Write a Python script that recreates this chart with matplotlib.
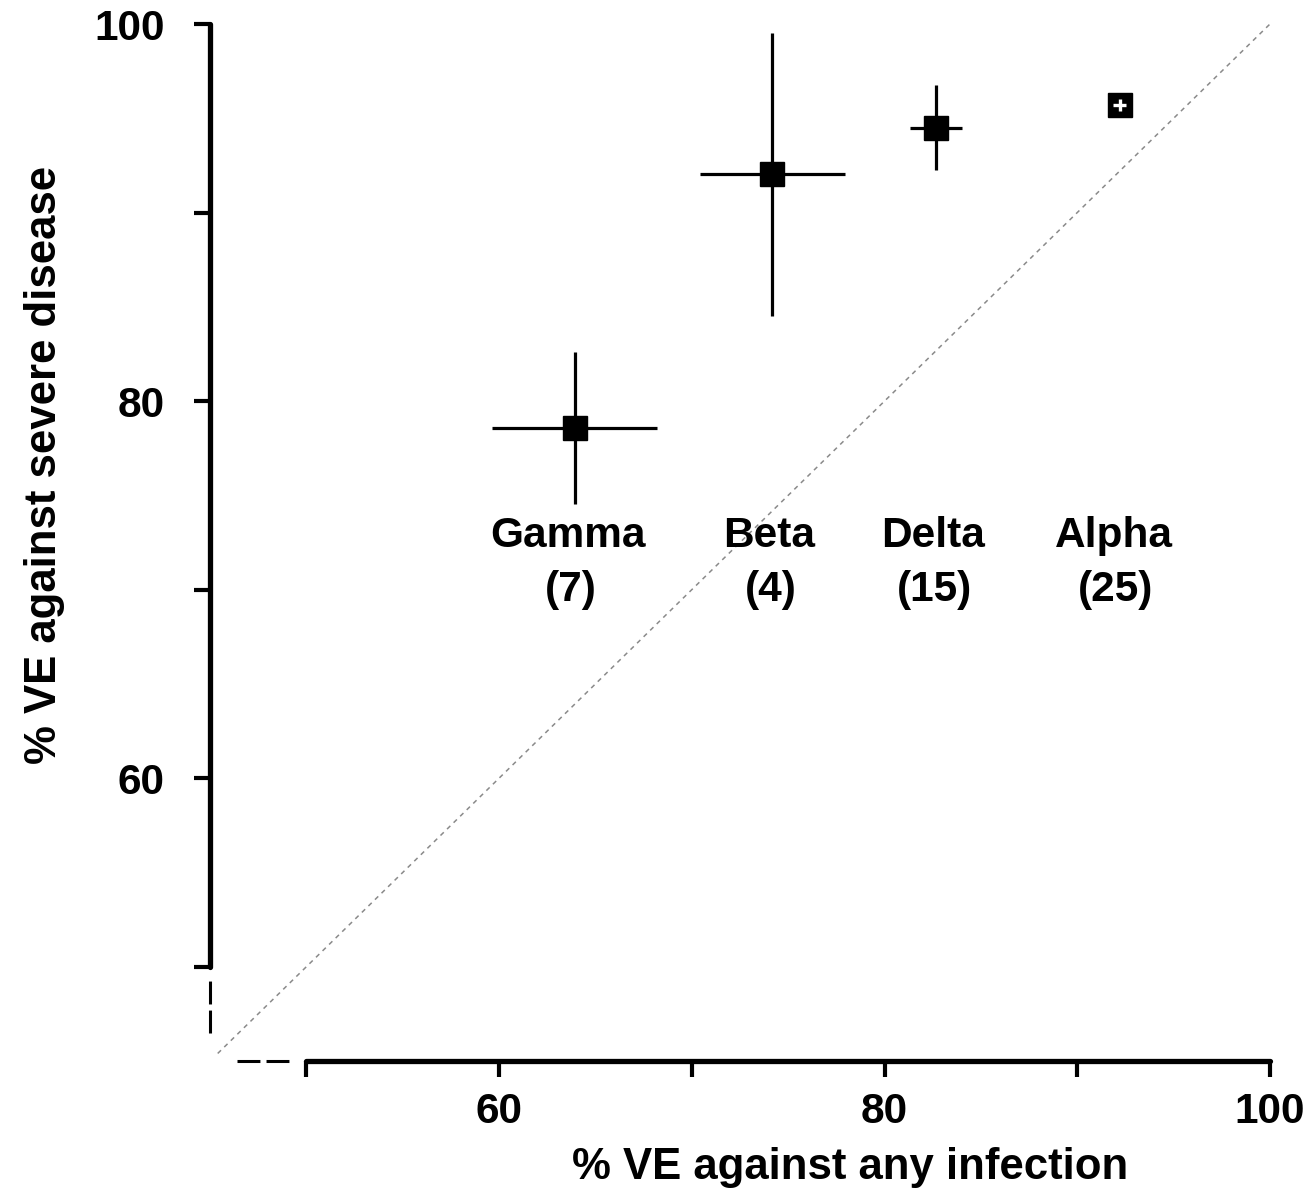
import matplotlib
matplotlib.use("Agg")
import matplotlib.pyplot as plt
import numpy as np

plt.rcParams['font.family'] = ['Liberation Sans', 'DejaVu Sans']
plt.rcParams['font.weight'] = 'bold'

# Data
variants = ["Gamma", "Beta", "Delta", "Alpha"]
n_studies = [7, 4, 15, 25]
ve_infection = [63.95, 74.16, 82.66, 92.21]
ve_inf_lo = [59.64, 70.40, 81.34, 91.85]
ve_inf_hi = [68.19, 77.93, 84.04, 92.52]
ve_severe = [78.56, 92.06, 94.48, 95.71]
ve_sev_lo = [74.55, 84.51, 92.24, 95.40]
ve_sev_hi = [82.58, 99.51, 96.77, 96.03]

x_major = [60, 80, 100]
x_minor = [50, 70, 90]
y_major = [60, 80, 100]
y_minor = [50, 70, 90]

W, H = 1312, 1193
fig = plt.figure(figsize=(W / 100, H / 100), dpi=100)
ax = fig.add_axes([210 / W, (H - 1061) / H, (1270 - 210) / W, (1061 - 24) / H])
ax.set_xlim(45, 100)
ax.set_ylim(45, 100)

# diagonal line of identity
ax.plot([45.4, 100], [45.4, 100], color='#8a8a8a', lw=1.1, dashes=(3, 3), zorder=1)

# error bars and markers
for i, v in enumerate(variants):
    col = 'white' if v == "Alpha" else 'black'
    z = 4 if v == "Alpha" else 2
    x, y = ve_infection[i], ve_severe[i]
    if v != "Alpha":
        ax.plot([ve_inf_lo[i], ve_inf_hi[i]], [y, y], color=col, lw=2.3, zorder=z, solid_capstyle='butt')
        ax.plot([x, x], [ve_sev_lo[i], ve_sev_hi[i]], color=col, lw=2.3, zorder=z, solid_capstyle='butt')
    ax.plot([x], [y], marker='s', ms=17, color='black', mec='black', mew=1.0, zorder=3,
            linestyle='none')
    if v == "Alpha":
        ax.plot([ve_inf_lo[i], ve_inf_hi[i]], [y, y], color=col, lw=2.4, zorder=z, solid_capstyle='butt')
        ax.plot([x, x], [ve_sev_lo[i], ve_sev_hi[i]], color=col, lw=2.4, zorder=z, solid_capstyle='butt')

# variant labels
label_dx = [-0.35, -0.15, -0.15, -0.3]
for i, v in enumerate(variants):
    ax.text(ve_infection[i] + label_dx[i], 72.27, v, ha='center', va='baseline',
            fontsize=30.5, fontweight='bold')
    ax.text(ve_infection[i] + label_dx[i] + 0.1, 69.4, f"({n_studies[i]})", ha='center', va='baseline',
            fontsize=30.5, fontweight='bold')

# spines
for s in ['top', 'right']:
    ax.spines[s].set_visible(False)
ax.spines['left'].set_bounds(50, 100)
ax.spines['bottom'].set_bounds(50, 100)
ax.spines['left'].set_linewidth(3.8)
ax.spines['bottom'].set_linewidth(3.8)
ax.spines['left'].set_capstyle('round')
ax.spines['bottom'].set_capstyle('round')

ax.set_xticks(x_major)
ax.set_xticks(x_minor, minor=True)
ax.set_yticks(y_major)
ax.set_yticks(y_minor, minor=True)
ax.tick_params(which='both', direction='out', length=11.5, width=3.0)
ax.tick_params(axis='x', which='major', pad=11, labelsize=30.5)
ax.tick_params(axis='y', which='major', pad=21, labelsize=30.5)
for lab in ax.get_xticklabels() + ax.get_yticklabels():
    lab.set_fontweight('bold')

# axis break dashes
ax.plot([45, 45], [46.5, 49.3], color='black', lw=2.2, dashes=(7.5, 2), clip_on=False,
        dash_capstyle='butt')
ax.plot([46.4, 49.1], [45, 45], color='black', lw=2.2, dashes=(7.5, 2), clip_on=False,
        dash_capstyle='butt')

ax.set_xlabel("% VE against any infection", fontsize=31.5, fontweight='bold')
ax.set_ylabel("% VE against severe disease", fontsize=31.5, fontweight='bold')
ax.xaxis.set_label_coords(0.604, -0.083)
ax.yaxis.set_label_coords(-0.137, 0.575)

fig.savefig("out.png", dpi=100)
